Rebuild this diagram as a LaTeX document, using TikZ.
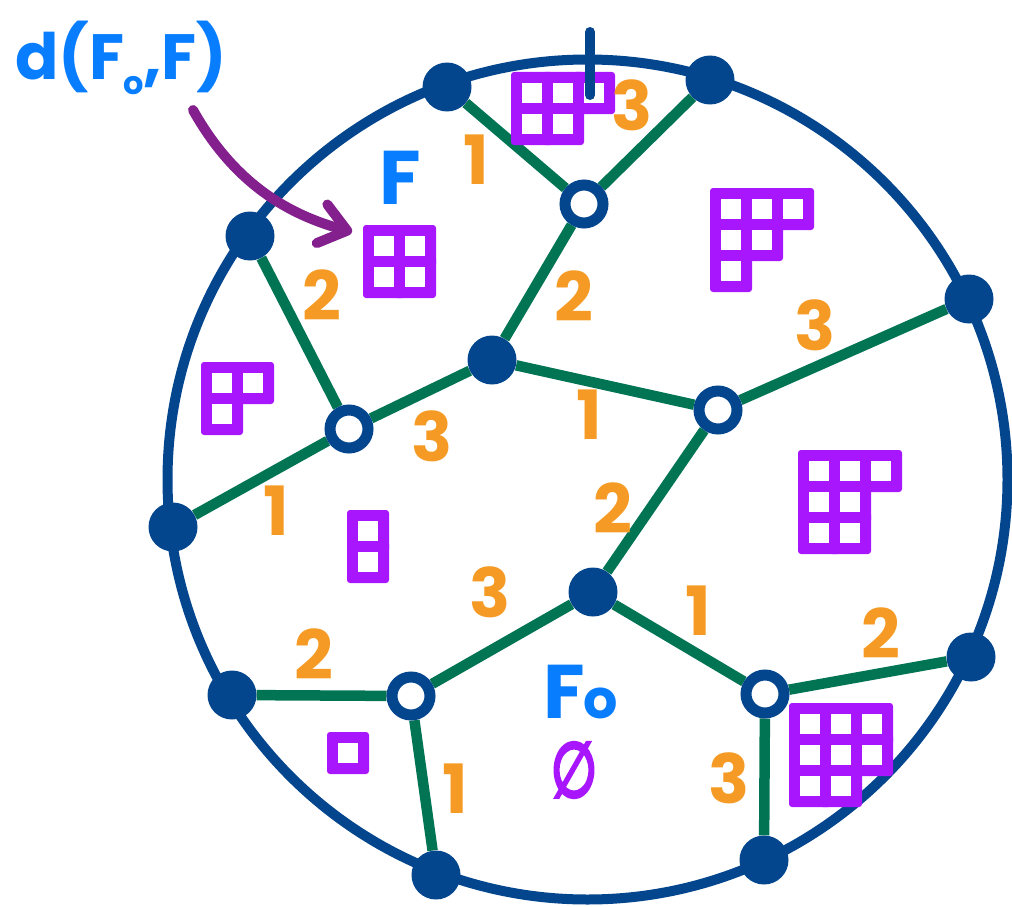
\documentclass[tikz,border=0pt]{standalone}
\usepackage{fontspec}
\setmainfont{Poppins}
\newfontfamily\symfont[FakeBold=5]{DejaVu Sans}
\usetikzlibrary{arrows.meta,backgrounds}
\definecolor{dblue}{HTML}{04468E}
\definecolor{egreen}{HTML}{017453}
\definecolor{lorange}{HTML}{F59B25}
\definecolor{tpurple}{HTML}{A816FE}
\definecolor{lblue}{HTML}{087DFE}
\definecolor{apurple}{HTML}{83208D}
\tikzset{
 bnd/.style={draw=dblue,line width=10pt},
 edge/.style={draw=egreen,line width=10.5pt},
 fdot/.style={circle,fill=dblue,minimum size=49pt,inner sep=0pt},
 odot/.style={circle,draw=dblue,line width=11pt,fill=white,minimum size=38pt,inner sep=0pt},
 num/.style={text=lorange,inner sep=0pt,font=\fontsize{68}{68}\selectfont\bfseries},
 blab/.style={text=lblue,inner sep=0pt,font=\fontsize{76}{76}\selectfont\bfseries},
 tick/.style={draw=dblue,line width=10pt,line cap=round},
 arr/.style={draw=apurple,line width=10pt,line cap=round,line join=round,
   -{Straight Barb[round,length=26pt,width=40pt]}},
}
\newcommand\youngd[3]{%
 \foreach \r [count=\i from 0] in {#3}{\foreach \c in {1,...,\r}{\fill[tpurple,rounded corners=3pt] ({#1+(\c-1)*31-5.5},{#2+\i*31-5.5}) rectangle +(42,42);}}%
 \foreach \r [count=\i from 0] in {#3}{\foreach \c in {1,...,\r}{\fill[white] ({#1+(\c-1)*31+5.5},{#2+\i*31+5.5}) rectangle +(20,20);}}%
}
\begin{document}
\begin{tikzpicture}[x=1pt,y=-1pt]
\useasboundingbox (0,0) rectangle (1012,907);
% boundary vertices
\node[fdot] (A) at (447,87) {};
\node[fdot] (B) at (710,80) {};
\node[fdot] (C) at (250,236) {};
\node[fdot] (D) at (969,299) {};
\node[fdot] (E) at (173,527) {};
\node[fdot] (F) at (232,695) {};
\node[fdot] (G) at (436,875) {};
\node[fdot] (H) at (764,860) {};
\node[fdot] (I) at (971,657) {};
% interior vertices
\node[fdot] (J) at (492,360) {};
\node[fdot] (K) at (593,592) {};
\node[odot] (o1) at (584,204) {};
\node[odot] (o2) at (349,429) {};
\node[odot] (o3) at (718,410) {};
\node[odot] (o4) at (411,696) {};
\node[odot] (o5) at (765,694) {};
\begin{scope}[on background layer]
\draw[bnd] (587.5,479.5) circle[radius=420];
\draw[edge] (A) -- (o1);
\draw[edge] (B) -- (o1);
\draw[edge] (o1) -- (J);
\draw[edge] (C) -- (o2);
\draw[edge] (o2) -- (J);
\draw[edge] (E) -- (o2);
\draw[edge] (J) -- (o3);
\draw[edge] (o3) -- (D);
\draw[edge] (o3) -- (K);
\draw[edge] (K) -- (o4);
\draw[edge] (F) -- (o4);
\draw[edge] (o4) -- (G);
\draw[edge] (K) -- (o5);
\draw[edge] (o5) -- (I);
\draw[edge] (o5) -- (H);
\end{scope}
% Young diagrams
\youngd{516.5}{77.5}{3,2}
\youngd{368.5}{230.5}{2,2}
\youngd{715.5}{193.5}{3,2,1}
\youngd{206.5}{367.5}{2,1}
\youngd{352.5}{515.5}{1,1}
\youngd{803.5}{455.5}{3,2,2}
\youngd{794.5}{708.5}{3,3,2}
\youngd{332.5}{737.5}{1}
% tick
\coordinate (t1) at (590,32);
\coordinate (t2) at (590,95);
\draw[tick] (t1) -- (t2);
% edge labels
\node[num] (n1) at (476,160) {1};
\node[num] (n2) at (632,105) {3};
\node[num] (n3) at (322,295) {2};
\node[num] (n4) at (574,296) {2};
\node[num] (n5) at (815,325) {3};
\node[num] (n6) at (432,436) {3};
\node[num] (n7) at (589,415) {1};
\node[num] (n8) at (276,511) {1};
\node[num] (n9) at (613,508) {2};
\node[num] (n10) at (490,592) {3};
\node[num] (n11) at (698,611) {1};
\node[num] (n12) at (881,633) {2};
\node[num] (n13) at (314,654) {2};
\node[num] (n14) at (455,789) {1};
\node[num] (n15) at (729,778) {3};
% blue labels
\node[blab,anchor=base west,font=\fontsize{64}{64}\selectfont\bfseries] (dlab) at (15,80) {d(F\kern-1pt\raisebox{-14pt}{\fontsize{32}{32}\selectfont o},F)};
\node[blab] (Flab) at (400,178) {F};
\node[blab,anchor=base west] (F0lab) at (543,718) {F\kern-1pt{\fontsize{54}{54}\selectfont o}};
\node[text=tpurple,inner sep=0pt,xscale=0.7,font=\symfont\fontsize{76}{76}\selectfont] (empt) at (574,770) {∅};
% arrow
\coordinate (as) at (193,110);
\coordinate (ae) at (352,232);
\draw[arr] (as) .. controls (235,185) and (290,215) .. (ae);
\end{tikzpicture}
\end{document}
